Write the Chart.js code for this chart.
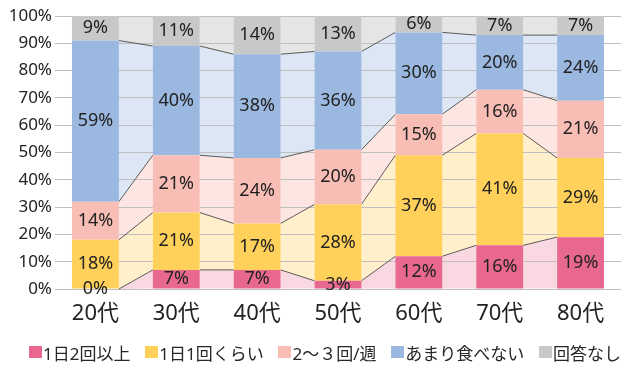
<!DOCTYPE html>
<html lang="ja">
<head>
<meta charset="utf-8">
<script src="https://cdn.jsdelivr.net/npm/chart.js@4.4.1/dist/chart.umd.min.js"></script>
<style>
    body { margin: 0; background: #fff; }
    #wrap { position: relative; width: 634px; height: 372px; }
    #legend {
        position: absolute; left: 29px; width: 592px; top: 340px; height: 24px;
        display: flex; justify-content: space-between; align-items: center;
        font-family: "Noto Sans", "Noto Sans CJK JP", sans-serif; font-size: 17px; color: #262626;
    }
    .item { display: flex; align-items: center; white-space: nowrap; }
    .box { display: inline-block; width: 13px; height: 12px; margin-right: 1px; }
</style>
</head>
<body>
<div id="wrap">
    <canvas id="mealChart"></canvas>
    <div id="legend"></div>
</div>
<script>
const categories = ['20代', '30代', '40代', '50代', '60代', '70代', '80代'];
const seriesNames = ['1日2回以上', '1日1回くらい', '2～３回/週', 'あまり食べない', '回答なし'];
const twiceDaily = [0, 7, 7, 3, 12, 16, 19];
const onceDaily = [18, 21, 17, 28, 37, 41, 29];
const fewWeekly = [14, 21, 24, 20, 15, 16, 21];
const rarely = [59, 40, 38, 36, 30, 20, 24];
const noAnswer = [9, 11, 14, 13, 6, 7, 7];

const barColors = ['#E8688F', '#FFD15A', '#F8BDB5', '#9BB8E0', '#C8C8C8'];
const gapColors = ['#F9D8E1', '#FFF0CB', '#FDE5E2', '#DDE6F4', '#E5E5E5'];
const FONT = '"Noto Sans", "Noto Sans CJK JP", sans-serif';

// filled bands + series lines between neighbouring bars
const seriesLinesPlugin = {
    id: 'seriesLines',
    beforeDraw(chart) {
        const ctx = chart.ctx;
        ctx.save();
        chart.data.datasets.forEach((ds, d) => {
            const bars = chart.getDatasetMeta(d).data;
            ctx.fillStyle = gapColors[d];
            for (let i = 0; i < bars.length - 1; i++) {
                const a = bars[i], b = bars[i + 1];
                const ax = a.x + a.width / 2, bx = b.x - b.width / 2;
                ctx.beginPath();
                ctx.moveTo(ax, a.y);
                ctx.lineTo(bx, b.y);
                ctx.lineTo(bx, b.base);
                ctx.lineTo(ax, a.base);
                ctx.closePath();
                ctx.fill();
            }
        });
        ctx.restore();
    },
    beforeDatasetsDraw(chart) {
        const ctx = chart.ctx;
        const last = chart.data.datasets.length - 1;
        ctx.save();
        ctx.strokeStyle = '#5A5A5A';
        ctx.lineWidth = 1;
        chart.data.datasets.forEach((ds, d) => {
            if (d === last) return;
            const bars = chart.getDatasetMeta(d).data;
            for (let i = 0; i < bars.length - 1; i++) {
                const a = bars[i], b = bars[i + 1];
                ctx.beginPath();
                ctx.moveTo(a.x + a.width / 2, a.y);
                ctx.lineTo(b.x - b.width / 2, b.y);
                ctx.stroke();
            }
        });
        ctx.restore();
    },
    afterDatasetsDraw(chart) {
        const ctx = chart.ctx;
        ctx.save();
        ctx.font = '18px ' + FONT;
        ctx.fillStyle = '#222222';
        ctx.textAlign = 'center';
        ctx.textBaseline = 'middle';
        chart.data.datasets.forEach((ds, d) => {
            chart.getDatasetMeta(d).data.forEach((bar, i) => {
                ctx.fillText(ds.data[i] + '%', bar.x, (bar.y + bar.base) / 2);
            });
        });
        ctx.restore();
    }
};

function buildLegend() {
    const legend = document.getElementById('legend');
    legend.innerHTML = seriesNames.map((name, i) => `
        <span class="item"><span class="box" style="background:${barColors[i]}"></span>${name}</span>
    `).join('');
}

document.addEventListener('DOMContentLoaded', () => {
    buildLegend();
    const values = [twiceDaily, onceDaily, fewWeekly, rarely, noAnswer];
    const ctx = document.getElementById('mealChart').getContext('2d');

    new Chart(ctx, {
        type: 'bar',
        data: {
            labels: categories,
            datasets: seriesNames.map((name, i) => ({
                label: name,
                data: values[i],
                backgroundColor: barColors[i],
                borderWidth: 0,
                categoryPercentage: 1,
                barPercentage: 0.58
            }))
        },
        options: {
            responsive: true,
            maintainAspectRatio: false,
            animation: false,
            layout: { padding: { left: 0, right: 13, top: 16, bottom: 0 } },
            plugins: {
                legend: { display: false },
                tooltip: { enabled: false }
            },
            scales: {
                x: {
                    stacked: true,
                    grid: { display: false },
                    border: { display: false },
                    ticks: { color: '#222222', padding: 4, font: { family: FONT, size: 22 } },
                    afterFit: scale => { scale.height = 83; }
                },
                y: {
                    stacked: true,
                    min: 0,
                    max: 100,
                    grid: { color: '#BFBFBF', drawTicks: false },
                    border: { display: false },
                    ticks: {
                        stepSize: 10,
                        padding: 3,
                        color: '#222222',
                        font: { family: FONT, size: 17 },
                        callback: v => v + '%'
                    },
                    afterFit: scale => { scale.width = 55; }
                }
            }
        },
        plugins: [seriesLinesPlugin]
    });
});
</script>
</body>
</html>
